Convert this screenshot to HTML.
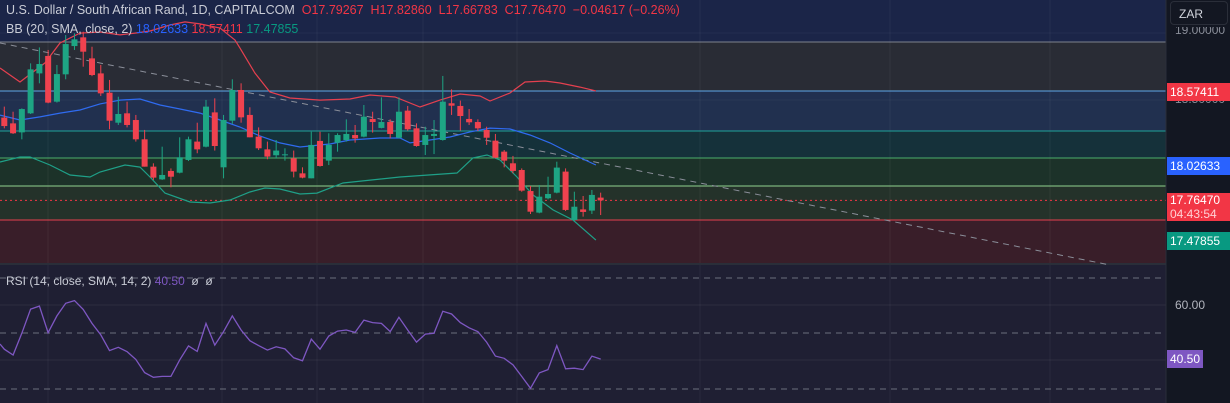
<!DOCTYPE html>
<html><head><meta charset="utf-8"><style>
html,body{margin:0;padding:0;background:#131722;width:1230px;height:403px;overflow:hidden;font-family:"Liberation Sans",sans-serif}
#wrap{position:relative;width:1230px;height:403px}
svg{position:absolute;left:0;top:0}
.lbl{position:absolute;font-size:12px;color:#fff;padding:0 3px;line-height:18px}
</style></head><body>
<div id="wrap">
<svg id="chart" width="1230" height="403"></svg>
<div style="position:absolute;left:6px;top:3px;font-size:12.5px;color:#c9ccd6">U.S. Dollar / South African Rand, 1D, CAPITALCOM <span style="color:#f23645">&nbsp;O17.79267 &nbsp;H17.82860 &nbsp;L17.66783 &nbsp;C17.76470 &nbsp;−0.04617 (−0.26%)</span></div>
<div style="position:absolute;left:6px;top:22px;font-size:12.5px;color:#c9ccd6">BB (20, SMA, close, 2) <span style="color:#2962ff">18.02633</span> <span style="color:#f23645">18.57411</span> <span style="color:#089981">17.47855</span></div>
<div style="position:absolute;left:6px;top:274px;font-size:12px;color:#c9ccd6">RSI (14, close, SMA, 14, 2) <span style="color:#7e57c2">40.50</span> &nbsp;ø &nbsp;ø</div>
<div style="position:absolute;left:1170px;top:1px;width:58px;height:24px;border:1px solid #2a2e39;border-radius:4px;background:#131722;color:#d1d4dc;font-size:12px;line-height:24px;padding-left:8px;box-sizing:border-box">ZAR</div>
<div class="lbl" style="left:1172px;top:27px;color:#8a8e99;height:11px;overflow:hidden;line-height:6px">19.00000</div>
<div class="lbl" style="left:1172px;top:96px;color:#8a8e99;height:10px;overflow:hidden;line-height:6px">18.50000</div>
<div class="lbl" style="left:1167px;top:83px;background:#f23645;width:58px">18.57411</div>
<div class="lbl" style="left:1167px;top:157px;background:#2962ff;width:58px">18.02633</div>
<div class="lbl" style="left:1167px;top:193px;background:#f23645;width:58px;line-height:14px;height:28px">17.76470<br><span style="color:#ffd0d4">04:43:54</span></div>
<div class="lbl" style="left:1167px;top:232px;background:#089981;width:58px">17.47855</div>
<div class="lbl" style="left:1172px;top:296px;color:#b2b5be">60.00</div>
<div class="lbl" style="left:1167px;top:350px;background:#7e57c2">40.50</div>
</div>
<script>
const opens=[18.383,18.340,18.273,18.415,18.713,18.843,18.502,18.706,18.917,18.982,18.825,18.713,18.569,18.345,18.415,18.365,18.221,18.017,17.922,17.985,17.972,18.067,18.204,18.166,18.422,18.012,18.360,18.589,18.403,18.241,18.146,18.102,18.107,18.079,17.967,17.930,18.209,18.062,18.196,18.216,18.253,18.241,18.373,18.306,18.350,18.233,18.435,18.303,18.179,18.246,18.216,18.490,18.470,18.373,18.350,18.291,18.211,18.129,18.042,17.992,17.835,17.674,17.781,17.823,17.980,17.619,17.698,17.689,17.786];
const highs=[18.465,18.427,18.452,18.788,18.907,18.888,18.776,18.999,19.012,19.024,18.912,18.776,18.664,18.539,18.502,18.403,18.291,18.042,18.166,18.004,18.236,18.241,18.345,18.515,18.527,18.403,18.669,18.639,18.460,18.310,18.204,18.216,18.154,18.137,18.012,18.278,18.278,18.266,18.266,18.370,18.328,18.477,18.427,18.534,18.370,18.534,18.470,18.340,18.315,18.365,18.694,18.594,18.510,18.447,18.370,18.315,18.261,18.141,18.097,18.004,17.873,17.880,17.942,18.054,18.004,17.830,17.798,17.843,17.823];
const lows=[18.303,18.261,18.221,18.410,18.639,18.490,18.495,18.669,18.888,18.763,18.693,18.544,18.296,18.328,18.310,18.204,18.017,17.918,17.918,17.863,17.967,18.059,18.117,18.161,18.137,17.930,18.336,18.345,18.236,18.141,18.072,18.077,18.062,17.937,17.930,17.930,18.017,18.029,18.129,18.204,18.196,18.236,18.271,18.303,18.228,18.228,18.286,18.166,18.104,18.111,18.211,18.403,18.286,18.328,18.283,18.179,18.079,18.012,17.967,17.830,17.664,17.669,17.773,17.818,17.686,17.614,17.644,17.664,17.656];
const closes=[18.320,18.266,18.447,18.743,18.783,18.495,18.708,18.932,18.967,18.875,18.701,18.564,18.360,18.410,18.328,18.221,18.017,17.935,17.955,17.942,18.087,18.221,18.146,18.465,18.171,18.365,18.589,18.385,18.236,18.154,18.092,18.137,18.109,17.980,17.935,18.179,18.022,18.179,18.253,18.261,18.228,18.390,18.350,18.350,18.261,18.427,18.296,18.171,18.253,18.261,18.502,18.472,18.395,18.348,18.303,18.233,18.084,18.062,17.985,17.838,17.681,17.793,17.813,18.010,17.694,17.718,17.679,17.806,17.765];
const rsi=[44.1,42.0,49.9,58.7,59.8,50.1,56.2,60.8,61.8,58.6,53.5,49.3,43.6,44.8,43.2,40.4,35.6,33.9,34.2,34.2,40.2,45.3,43.3,53.5,45.6,50.5,56.2,51.1,47.2,45.4,43.8,45.0,44.2,41.0,39.9,47.8,44.1,48.9,50.7,51.1,50.2,54.7,53.8,53.5,50.5,55.7,51.1,46.7,49.6,49.9,57.9,56.9,53.8,51.9,50.5,46.7,41.6,40.8,38.4,34.2,29.9,35.5,36.7,45.4,37.0,37.2,36.7,41.6,40.5];
// Bollinger bands sampled as [bar index (fractional), price]
const bbUpperIdx=[-0.49,1.79,4.64,6.35,8.63,10.91,13.19,14.9,16.61,18.89,20.6,22.31,24.59,26.3,26.87,28.58,30.29,32.57,36.0,39.42,41.7,44.55,47.4,49.68,51.96,54.24,55.38,57.66,59.37,61.65,63.36,65.64,67.46];
const bbUpperVal=[18.753,18.649,18.791,18.940,19.014,19.022,19.000,19.014,19.029,19.074,19.097,19.082,19.052,18.962,18.903,18.716,18.574,18.529,18.514,18.522,18.552,18.537,18.462,18.514,18.559,18.544,18.507,18.567,18.649,18.656,18.641,18.611,18.582];
const bbMidIdx=[-0.49,1.79,4.07,6.35,8.63,10.91,13.19,15.47,17.75,20.03,22.31,24.59,26.87,29.15,31.43,33.71,37.13,39.42,42.84,45.12,46.26,48.54,50.82,53.1,55.38,57.66,59.94,62.22,64.5,67.46];
const bbMidVal=[18.402,18.365,18.388,18.417,18.440,18.485,18.514,18.522,18.477,18.447,18.417,18.365,18.313,18.246,18.194,18.164,18.186,18.216,18.231,18.231,18.194,18.216,18.238,18.276,18.305,18.298,18.253,18.194,18.119,18.029];
const bbLowIdx=[-0.49,1.79,2.93,5.21,7.49,9.77,10.91,13.76,15.47,16.61,18.32,21.17,23.45,25.73,28.01,29.72,31.43,33.71,35.65,38.62,45.12,51.62,53.44,55.04,56.52,58.46,60.28,62.57,64.85,67.46];
const bbLowVal=[18.052,18.089,18.089,18.029,17.955,17.940,17.977,18.029,18.014,17.940,17.820,17.753,17.746,17.768,17.828,17.858,17.850,17.813,17.820,17.895,17.940,17.970,18.082,18.104,18.067,17.940,17.806,17.694,17.619,17.469];
const hLevels=[42,91,131,158,186,220];

const svg=document.getElementById('chart');
const NS='http://www.w3.org/2000/svg';
const X0=4.3,DX=8.77,PLOT_W=1166;
const xOf=i=>X0+i*DX;
const yP=p=>92+(18.57411-p)*134;
const yR=v=>333-(v-50)*2.75;
function mk(tag,attrs,parent){const e=document.createElementNS(NS,tag);for(const k in attrs)e.setAttribute(k,attrs[k]);(parent||svg).appendChild(e);return e;}

const zones=[[0,42,'#1b2548'],[42,91,'#292c35'],[91,131,'#21304f'],[131,158,'#15313a'],[158,186,'#1c3229'],[186,220,'#24322a'],[220,263,'#391e29']];
zones.forEach(z=>{const r=mk('rect',{x:0,y:z[0],width:PLOT_W,height:z[1]-z[0],fill:z[2]});

});
mk('rect',{x:0,y:264,width:PLOT_W,height:139,fill:'#1f1f33'});
mk('rect',{x:1166,y:0,width:64,height:403,fill:'#131722'});
[48,222,317,423,517,700,890,1050].forEach(x=>mk('line',{x1:x,x2:x,y1:0,y2:403,stroke:'rgba(255,255,255,0.05)'}));
[100,33].forEach(y=>mk('line',{x1:0,x2:PLOT_W,y1:y,y2:y,stroke:'rgba(255,255,255,0.04)'}));
[305,360].forEach(y=>mk('line',{x1:0,x2:PLOT_W,y1:y,y2:y,stroke:'rgba(255,255,255,0.06)'}));
const lc=['#7d828d','#5fa8e8','#1fa39a','#4caf6a','#8fd18f','#e5404f'];
hLevels.forEach((y,i)=>{const l=mk('line',{x1:0,x2:PLOT_W,y1:y,y2:y,stroke:lc[i],'stroke-width':1});

});
mk('line',{x1:0,x2:PLOT_W,y1:264,y2:264,stroke:'#2a2e39','stroke-width':2});
const tl=mk('line',{x1:0,y1:43,x2:1110,y2:265,stroke:'#8a8e99','stroke-dasharray':'6,5','stroke-width':1});


const lp=mk('line',{x1:0,x2:PLOT_W,y1:yP(closes[closes.length-1]),y2:yP(closes[closes.length-1]),stroke:'#f23645','stroke-dasharray':'2,3'});


function band(idx,val,color,name){const d=idx.map((i,k)=>(k?'L':'M')+xOf(i).toFixed(1)+' '+yP(val[k]).toFixed(1)).join(' ');
const p=mk('path',{d:d,fill:'none',stroke:color,'stroke-width':1.2});

}
band(bbUpperIdx,bbUpperVal,'#e5404f','bb-upper-band');
band(bbMidIdx,bbMidVal,'#2f6bf0','bb-middle-band');
band(bbLowIdx,bbLowVal,'#1fa088','bb-lower-band');
for(let i=0;i<opens.length;i++){
 const up=closes[i]>=opens[i];const c=up?'#1ea584':'#f0424f';const x=xOf(i);
 const g=mk('g',{});
 
 
 mk('line',{x1:x,x2:x,y1:yP(highs[i]),y2:yP(lows[i]),stroke:c,'stroke-width':1},g);
 const t=yP(Math.max(opens[i],closes[i])),b=yP(Math.min(opens[i],closes[i]));
 mk('rect',{x:x-3,y:t,width:6,height:Math.max(1,b-t),fill:c},g);
}
[278,333,389].forEach(y=>mk('line',{x1:0,x2:PLOT_W,y1:y,y2:y,stroke:'#6b6f7d','stroke-dasharray':'6,5'}));
const rp=mk('path',{d:'M0 '+yR(46).toFixed(1)+' '+rsi.map((v,i)=>'L'+xOf(i).toFixed(1)+' '+yR(v).toFixed(1)).join(' '),fill:'none',stroke:'#7e57c2','stroke-width':1.3});


mk('line',{x1:1166,x2:1166,y1:0,y2:403,stroke:'#2a2e39'});
</script>
</body></html>
